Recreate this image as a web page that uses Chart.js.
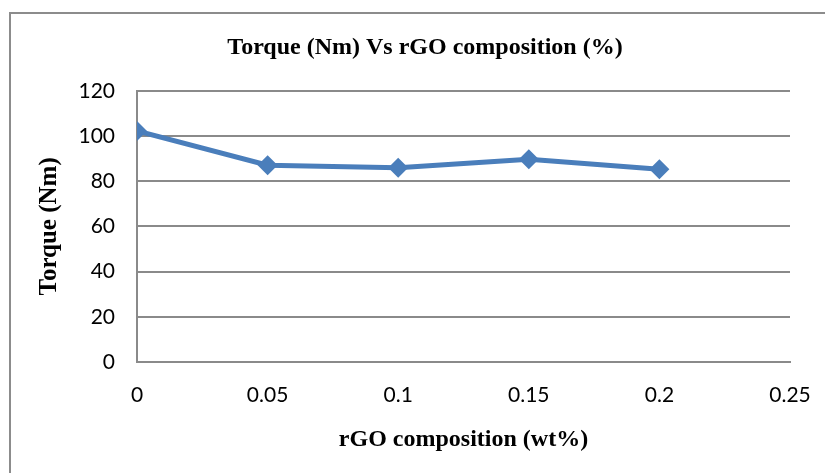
<!DOCTYPE html>
<html>
<head>
<meta charset="utf-8">
<script src="https://cdn.jsdelivr.net/npm/chart.js@4"></script>
<style>
    html, body { margin: 0; padding: 0; background: #fff; overflow: hidden; }
    #wrap { position: relative; width: 825px; height: 473px; }
    #frame {
        position: absolute; left: 9px; top: 12px; width: 840px; height: 480px;
        border: 2px solid #8c8c8c; box-sizing: border-box;
    }
    canvas { position: absolute; left: 0; top: 0; }
</style>
</head>
<body>
<div id="wrap">
    <div id="frame"></div>
    <canvas id="torqueChart" width="825" height="473"></canvas>
</div>
<script>
// rGO content (wt%) and measured torque (Nm)
const composition = [0, 0.05, 0.1, 0.15, 0.2];
const torque = [102.2, 87.1, 85.9, 89.7, 85.3];

const xTicks = [0, 0.05, 0.1, 0.15, 0.2, 0.25];
const yTicks = [0, 20, 40, 60, 80, 100, 120];

const tickFont = { family: 'Lato, "Liberation Sans", sans-serif', size: 21 };
const serifBold = { family: '"Liberation Serif", "Times New Roman", serif', size: 24, weight: 'bold' };
const gridGrey = '#8a8a8a';

new Chart(document.getElementById('torqueChart'), {
    type: 'line',
    data: {
        datasets: [{
            label: 'Torque',
            data: composition.map((c, i) => ({ x: c, y: torque[i] })),
            borderColor: '#4a7ebb',
            backgroundColor: '#4a7ebb',
            borderWidth: 5,
            tension: 0,
            pointStyle: 'rectRot',
            pointRadius: 10,
            pointBorderWidth: 0,
            pointBackgroundColor: '#4a7ebb'
        }]
    },
    options: {
        responsive: false,
        animation: false,
        // left padding keeps the main title centred on the frame
        layout: { padding: { left: 60, right: 35, top: 0, bottom: 0 } },
        plugins: {
            legend: { display: false },
            tooltip: { enabled: false },
            title: {
                display: true,
                text: 'Torque (Nm) Vs rGO composition (%)',
                color: '#000',
                font: serifBold,
                padding: { top: 33, bottom: 29 }
            }
        },
        scales: {
            x: {
                type: 'linear',
                min: 0,
                max: 0.25,
                afterBuildTicks: s => { s.ticks = xTicks.map(v => ({ value: v })); },
                afterFit: s => {
                    s.height = 111;
                    // let the layout padding alone decide the plot's right edge
                    s.paddingLeft = 0;
                    s.paddingRight = 0;
                },
                ticks: {
                    color: '#000',
                    font: tickFont,
                    padding: 21,
                    callback: v => String(v)
                },
                grid: { display: false, drawTicks: false },
                border: { display: true, color: gridGrey, width: 2 },
                title: {
                    display: true,
                    text: 'rGO composition (wt%)',
                    color: '#000',
                    font: serifBold,
                    padding: { top: 20, bottom: 19 }
                }
            },
            y: {
                min: 0,
                max: 120,
                afterBuildTicks: s => { s.ticks = yTicks.map(v => ({ value: v })); },
                afterFit: s => { s.width = 77; },
                ticks: {
                    color: '#000',
                    font: tickFont,
                    padding: 22
                },
                grid: { color: gridGrey, lineWidth: 2, drawTicks: false },
                border: { display: true, color: gridGrey, width: 2 },
                title: {
                    display: true,
                    text: 'Torque (Nm)',
                    color: '#000',
                    font: { ...serifBold, size: 25 },
                    // pulled out into the left padding
                    padding: { top: -25, bottom: 0 }
                }
            }
        }
    }
});
</script>
</body>
</html>
